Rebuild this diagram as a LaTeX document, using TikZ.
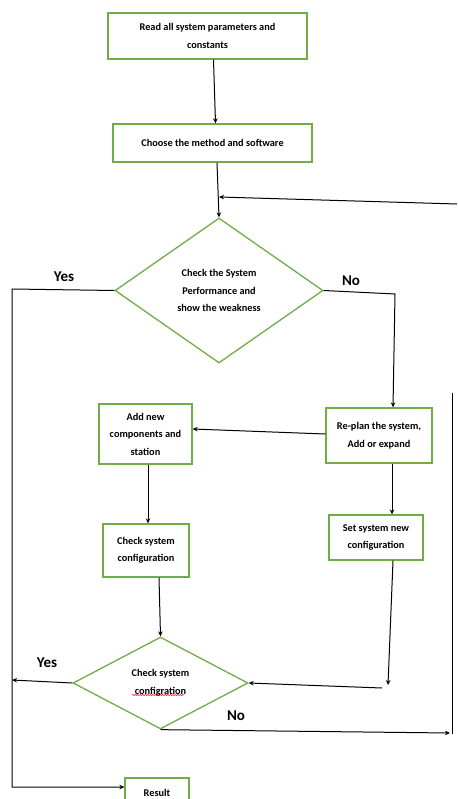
\documentclass[tikz,border=0pt]{standalone}
\usepackage{fontspec}
\setmainfont{Carlito}
\usetikzlibrary{shapes.geometric,arrows.meta,decorations.pathmorphing}
\definecolor{boxgreen}{HTML}{70AD47}
\begin{document}
\begin{tikzpicture}[x=1pt,y=-1pt,
  txt/.style={font=\fontsize{10.3}{17.5}\selectfont\bfseries, align=center},
  gbox/.style={txt, draw=boxgreen, line width=1.3pt, fill=white, inner sep=0pt},
  gdia/.style={txt, draw=boxgreen, line width=1.3pt, diamond, inner sep=0pt},
  conn/.style={draw=black, line width=1pt},
  arr/.style={conn, -{Stealth[length=5pt,width=4.5pt]}},
  lbl/.style={font=\fontsize{15}{15}\selectfont\bfseries},
  squig/.style={draw=red, line width=0.5pt, decorate, decoration={snake, amplitude=0.6pt, segment length=2.5pt}}]
\useasboundingbox (0,0) rectangle (457,799);

% nodes
\node[gbox, minimum width=199pt, minimum height=46pt] (read) at (207.5,36) {Read all system parameters and\\constants};
\node[gbox, minimum width=199pt, minimum height=38pt] (choose) at (212.5,143) {Choose the method and software};
\node[gdia, minimum width=208pt, minimum height=145pt] (perf) at (219,290.5) {Check the System\\Performance and\\show the weakness};
\node[gbox, minimum width=106pt, minimum height=55pt] (replan) at (379,435.5) {Re-plan the system,\\Add or expand};
\node[gbox, minimum width=93pt, minimum height=60pt] (addnew) at (145.5,434) {Add new\\components and\\station};
\node[gbox, minimum width=86pt, minimum height=53pt] (chk) at (146,550.5) {Check system\\configuration};
\node[gbox, minimum width=94pt, minimum height=45pt] (setcfg) at (376,537.5) {Set system new\\configuration};
\node[gdia, minimum width=175pt, minimum height=92pt] (cfg2) at (160.5,683) {Check system\\configration};
\node[gbox, minimum width=64pt, minimum height=30pt] (result) at (157,793) {Result};

% labels
\node[lbl] (yes1) at (64,277) {Yes};
\node[lbl] (no1) at (351,281) {No};
\node[lbl] (yes2) at (47,663) {Yes};
\node[lbl] (no2) at (236,716) {No};

% coordinates
\coordinate (loopR) at (457,204);
\coordinate (loopL) at (219,197);
\coordinate (yesC) at (12,289);
\coordinate (yesB) at (12,787);
\coordinate (noC) at (395,294);
\coordinate (setEnd) at (388,685);
\coordinate (merge) at (382,688);
\coordinate (yes2E) at (12,680);
\coordinate (no2E) at (450,733);
\coordinate (rightBot) at (452,734);
\coordinate (rightTop) at (452,393);
\coordinate (sqA) at (132,695);
\coordinate (sqB) at (184,695);

% connectors
\draw[arr] ([xshift=6pt]read.south) -- ([xshift=3pt]choose.north);
\draw[arr] ([xshift=4.5pt]choose.south) -- (perf.north);
\draw[arr] (loopR) -- (loopL);
\draw[arr] (perf.west) -- (yesC) -- (yesB) -- (result.west |- yesB);
\draw[arr] (perf.east) -- (noC) -- ([xshift=14pt]replan.north);
\draw[arr] ([yshift=1.5pt]replan.west) -- ([yshift=5pt]addnew.east);
\draw[arr] ([xshift=2.5pt]addnew.south) -- ([xshift=2pt]chk.north);
\draw[arr] ([xshift=13pt]chk.south) -- (cfg2.north);
\draw[arr] ([xshift=13pt]replan.south) -- ([xshift=16pt]setcfg.north);
\draw[arr] ([xshift=17pt]setcfg.south) -- (setEnd);
\draw[arr] (merge) -- (cfg2.east);
\draw[arr] (cfg2.west) -- (yes2E);
\draw[arr] (cfg2.south) -- (no2E);
\draw[conn] (rightBot) -- (rightTop);
\draw[squig] (sqA) -- (sqB);
\end{tikzpicture}
\end{document}
